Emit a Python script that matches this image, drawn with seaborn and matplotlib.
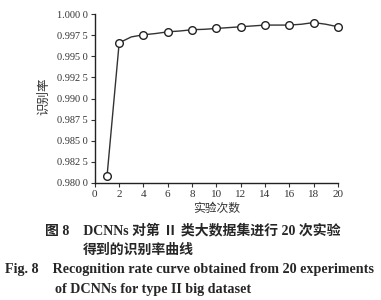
import matplotlib
matplotlib.use("Agg")
import matplotlib.pyplot as plt
import seaborn as sns
import pandas as pd

sns.set_style("ticks")
plt.rcParams['font.family'] = ['Liberation Serif', 'Noto Sans CJK SC']

experiments = list(range(1, 21))
rates = [0.9808, 0.9966, 0.9973, 0.99755, 0.9977, 0.9979, 0.9980, 0.99815,
         0.9982, 0.9983, 0.9984, 0.9985, 0.9986, 0.9987, 0.9987, 0.9987,
         0.9988, 0.9990, 0.9988, 0.9985]
marker_idx = [0, 1, 3, 5, 7, 9, 11, 13, 15, 17, 19]
yticks = [0.98, 0.9825, 0.985, 0.9875, 0.99, 0.9925, 0.995, 0.9975, 1.0]
ytick_labels = ["0.980 0", "0.982 5", "0.985 0", "0.987 5", "0.990 0",
                "0.992 5", "0.995 0", "0.997 5", "1.000 0"]
xticks = list(range(0, 21, 2))

df = pd.DataFrame({"x": experiments, "y": rates})

fig = plt.figure(figsize=(3.81, 3.0), dpi=100)
ax = fig.add_axes([0.249, 0.39, 0.638, 0.563])
sns.lineplot(data=df, x="x", y="y", ax=ax, color="#333333", linewidth=1.0,
             marker="o", markersize=5.5, markerfacecolor="white",
             markeredgecolor="#222222", markeredgewidth=1.0,
             markevery=marker_idx, clip_on=False)
ax.set_xlim(0, 20)
ax.set_ylim(0.98, 1.0)
ax.set_xticks(xticks)
ax.set_xticklabels([str(t) for t in xticks], fontsize=8)
ax.set_yticks(yticks)
ax.set_yticklabels(ytick_labels, fontsize=7.4)
ax.tick_params(direction="out", length=3, width=0.8, pad=2, colors="#333333")
for s in ["top", "right"]:
    ax.spines[s].set_visible(False)
for s in ["left", "bottom"]:
    ax.spines[s].set_linewidth(1.0)
    ax.spines[s].set_color("#222222")
ax.set_xlabel("实验次数", fontsize=8.5, family=['Noto Sans CJK SC'], labelpad=2,
              color="#333333")
ax.set_ylabel("识别率", fontsize=9, family=['Noto Sans CJK SC'],
              color="#333333")
ax.yaxis.set_label_coords(-0.185, 0.515)

fam = ['Liberation Serif', 'Noto Sans CJK SC']
fig.text(45/381, 1-230/300, "图 8    DCNNs 对第 Ⅱ 类大数据集进行 20 次实验",
         fontsize=10, fontweight="bold", family=fam, va="center", ha="left")
fig.text(83/381, 1-250/300, "得到的识别率曲线",
         fontsize=10, fontweight="bold", family=fam, va="center", ha="left")
fig.text(5/381, 1-270/300, "Fig. 8    Recognition rate curve obtained from 20 experiments",
         fontsize=10.2, fontweight="bold", family=fam, va="center", ha="left")
fig.text(55/381, 1-290/300, "of DCNNs for type II big dataset",
         fontsize=10.2, fontweight="bold", family=fam, va="center", ha="left")

fig.savefig("out.png", dpi=100)
